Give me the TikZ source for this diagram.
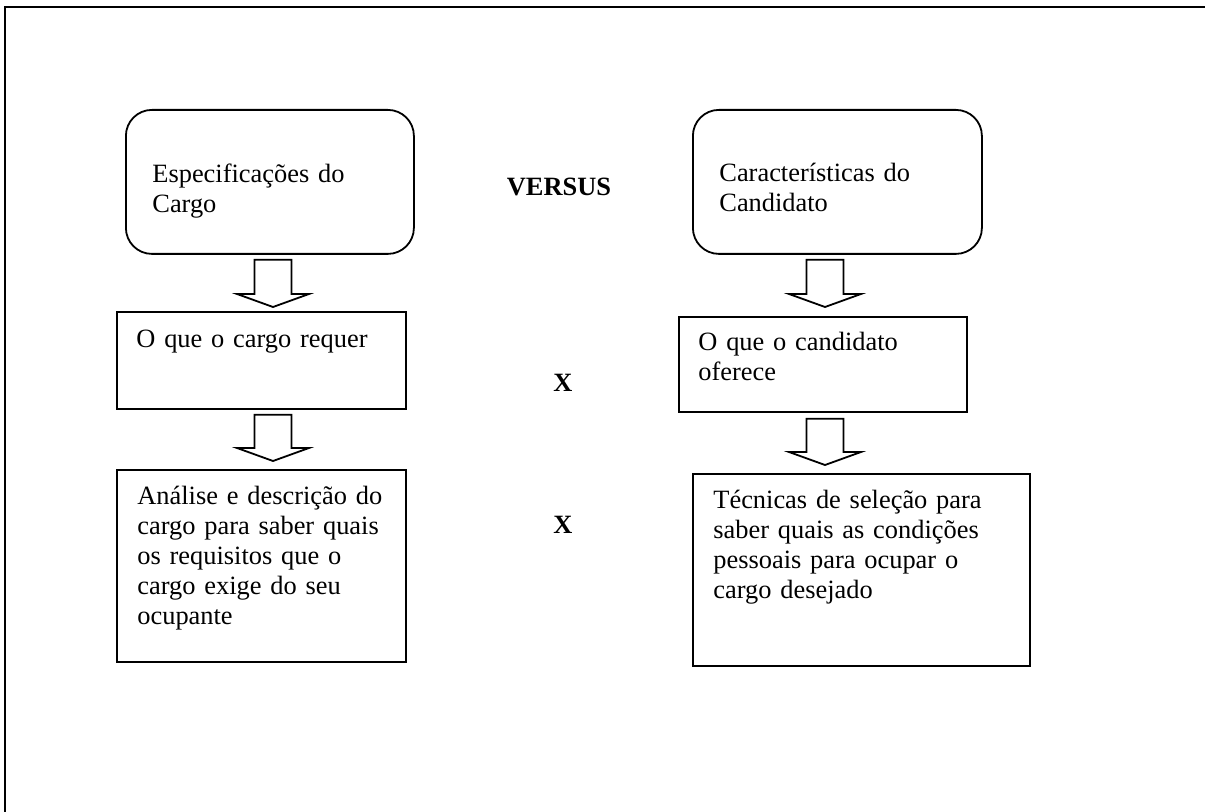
\documentclass[tikz,border=0pt]{standalone}
\usepackage{fontspec}
\setmainfont{Liberation Serif}
\usetikzlibrary{calc}
\begin{document}
\begin{tikzpicture}[x=0.5pt,y=-0.5pt,
  frame/.style={draw=black, line width=1.25pt},
  boxbase/.style={draw=black, line width=0.9pt, inner sep=0pt, anchor=north west},
  roundbox/.style={boxbase, rounded corners=13pt},
  rectbox/.style={boxbase},
  txt/.style={anchor=north west, inner sep=0pt, text width=160pt, align=left,
    font=\fontsize{13.2pt}{15pt}\selectfont, execute at begin node={\rule{0pt}{13pt}}},
  boldtxt/.style={anchor=base, inner sep=0pt, font=\fontsize{13.2pt}{15pt}\selectfont\bfseries},
  blockarrow/.style={draw=black, line width=0.9pt,
    to path={let \p1=(\tikztostart), \p2=(\tikztotarget) in
      (\x1-9.25pt,\y1) -- (\x1+9.25pt,\y1) -- (\x1+9.25pt,\y2+6.5pt) -- (\x1+18pt,\y2+6.5pt)
      -- (\x1,\y2) -- (\x1-18pt,\y2+6.5pt) -- (\x1-9.25pt,\y2+6.5pt) -- cycle}}
]
\useasboundingbox (0,0) rectangle (1205,812);

% outer frame (top and left edges visible)
\coordinate (fA) at (5,812);
\coordinate (fB) at (5,7);
\coordinate (fC) at (1205,7);
\draw[frame] (fA) -- (fB) -- (fC);

% boxes
\node[roundbox, minimum width=144pt, minimum height=72pt] (b1) at (125,109) {};
\node[roundbox, minimum width=144.5pt, minimum height=72pt] (rb1) at (692,109) {};
\node[rectbox, minimum width=144.5pt, minimum height=48.5pt] (b2) at (116,311) {};
\node[rectbox, minimum width=144pt, minimum height=47.5pt] (rb2) at (678,316) {};
\node[rectbox, minimum width=144.5pt, minimum height=96pt] (b3) at (116,469) {};
\node[rectbox, minimum width=168.5pt, minimum height=96pt] (rb3) at (692,473) {};

% texts
\node[txt] (t1) at (152,156) {Especificações do\\Cargo};
\node[txt] (rt1) at (719,155) {Características do\\Candidato};
\node[txt] (t2) at (136,321) {O que o cargo requer};
\node[txt] (rt2) at (698,324) {O que o candidato\\oferece};
\node[txt] (t3) at (137,478) {Análise e descrição do\\cargo para saber quais\\os requisitos que o\\cargo exige do seu\\ocupante};
\node[txt] (rt3) at (713,482) {Técnicas de seleção para\\saber quais as condições\\pessoais para ocupar o\\cargo desejado};

\node[boldtxt] (vs) at (559,196) {VERSUS};
\node[boldtxt] (x1) at (563,392) {X};
\node[boldtxt] (x2) at (563,533) {X};

% block arrows
\coordinate (ax1) at (273,0);
\coordinate (ax2) at (825,0);
\draw[blockarrow] ($(b1.south -| ax1)+(0,5)$) to ($(b2.north -| ax1)+(0,-4)$);
\draw[blockarrow] ($(b2.south -| ax1)+(0,5)$) to ($(b3.north -| ax1)+(0,-8)$);
\draw[blockarrow] ($(rb1.south -| ax2)+(0,5)$) to ($(rb2.north -| ax2)+(0,-9)$);
\draw[blockarrow] ($(rb2.south -| ax2)+(0,6)$) to ($(rb3.north -| ax2)+(0,-8)$);
\end{tikzpicture}
\end{document}
